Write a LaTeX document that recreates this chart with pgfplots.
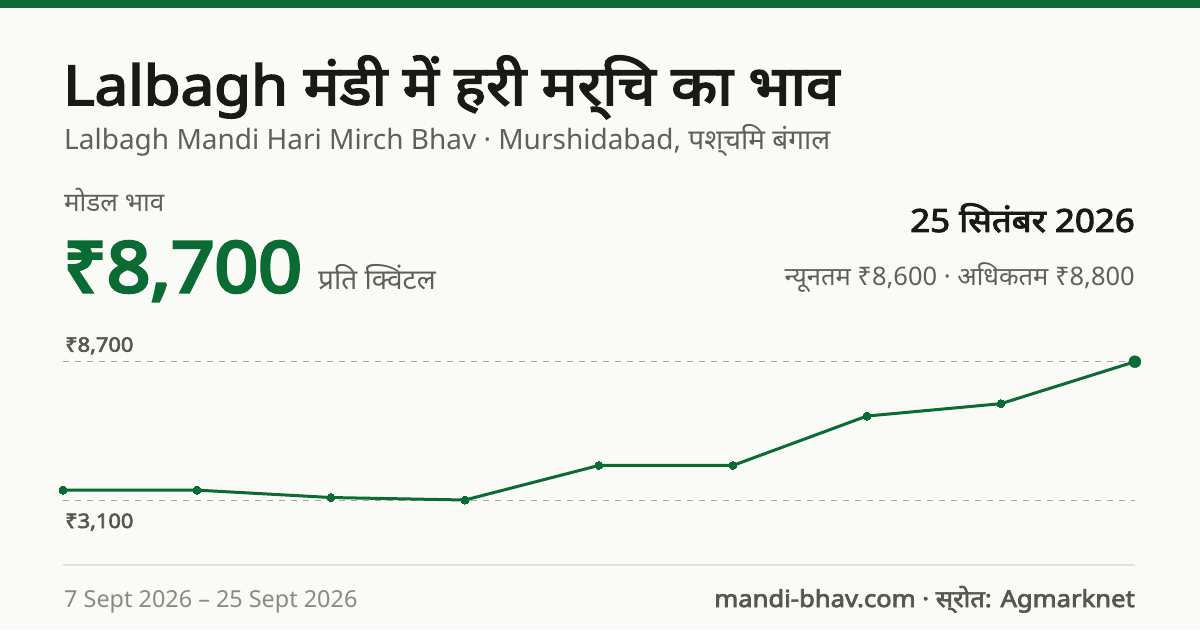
\documentclass[border=0pt]{standalone}
\usepackage{fontspec}
\setmainfont{Noto Sans}[BoldFont={Noto Sans},BoldFeatures={FakeBold=3}]
\newfontfamily\dv{Noto Sans}[Script=Devanagari,BoldFont={Noto Sans},BoldFeatures={FakeBold=3}]
\usepackage{pgfplots}
\pgfplotsset{compat=1.18}
\definecolor{bg}{HTML}{FAFAF6}
\definecolor{brand}{HTML}{0B6B35}
\definecolor{ink}{HTML}{1A1A14}
\definecolor{sub}{HTML}{5F6158}
\definecolor{lbl}{HTML}{55584C}
\definecolor{foot}{HTML}{8A8B80}
\definecolor{rule}{HTML}{E2E2DA}
\newcommand{\fs}[1]{\fontsize{#1}{#1}\selectfont}
% fake bold has regular widths; widen it like a real bold face
\newcommand{\wide}[1]{\scalebox{1.09}[1]{#1}}
\begin{document}
\begin{tikzpicture}[x=1pt,y=1pt]
  \fill[bg] (0,0) rectangle (1200,630);
  \fill[brand] (0,622) rectangle (1200,630);
  % header
  \node[anchor=base west,inner sep=0,text=ink] at (63,525)
    {\wide{\fs{55}\bfseries Lalbagh {\dv मंडी में हरी मर्^^^^200cचि का भाव}}};
  \node[anchor=base west,inner sep=0,text=sub] at (64,480)
    {\fs{28}Lalbagh Mandi Hari Mirch Bhav · Murshidabad, {\dv पश्^^^^200cचमि बंगाल}};
  \node[anchor=base west,inner sep=0,text=sub] at (64,418)
    {\fs{26}\dv मोडल भाव};
  \node[anchor=base west,inner sep=0,text=brand] at (63,338)
    {\wide{\fs{70}\addfontfeatures{FakeBold=4.5}₹8,700}};
  \node[anchor=base west,inner sep=0,text=sub] at (318,340)
    {\fs{28}\dv प्रति क्विंटल};
  \node[anchor=base east,inner sep=0,text=ink] at (1135,398)
    {\wide{\fs{32}\bfseries 25 {\dv सितंबर} 2026}};
  \node[anchor=base east,inner sep=0,text=sub] at (1135,344)
    {\fs{25.5}{\dv न्यूनतम} ₹8,600 · {\dv अधिकतम} ₹8,800};
  % chart
  \begin{axis}[
      at={(63pt,130pt)}, anchor=south west,
      width=1072pt, height=138.3pt, scale only axis,
      xmin=0, xmax=8, ymin=3100, ymax=8700,
      axis lines=none, ticks=none, clip=false,
    ]
    \addplot[rule!40!gray, dashed, dash pattern=on 6pt off 6pt, line width=1pt]
      coordinates {(0,8700) (8,8700)};
    \addplot[rule!40!gray, dashed, dash pattern=on 6pt off 6pt, line width=1pt]
      coordinates {(0,3100) (8,3100)};
    \addplot[brand, line width=3pt, mark=*, mark size=4pt,
      mark options={fill=brand, draw=brand, line width=0pt}]
      coordinates {(0,3500) (1,3500) (2,3200) (3,3100) (4,4500)
                   (5,4500) (6,6500) (7,7000) (8,8700)};
    \addplot[brand, only marks, mark=*, mark size=6pt,
      mark options={fill=brand, draw=brand}]
      coordinates {(8,8700)};
    \node[anchor=base west,inner sep=0,text=lbl] at (axis cs:0,8700)
      [yshift=10pt,xshift=2pt] {\wide{\fs{20}\bfseries ₹8,700}};
    \node[anchor=base west,inner sep=0,text=lbl] at (axis cs:0,3100)
      [yshift=-28pt,xshift=2pt] {\wide{\fs{20}\bfseries ₹3,100}};
  \end{axis}
  % footer
  \draw[rule, line width=2pt] (63,65) -- (1135,65);
  \node[anchor=base west,inner sep=0,text=foot] at (64,23)
    {\fs{23.4}7 Sept 2026 – 25 Sept 2026};
  \node[anchor=base east,inner sep=0,text=lbl] at (1135,23)
    {\wide{\fs{23.5}\bfseries mandi-bhav.com · {\dv स्^^^^200cरोत}: Agmarknet}};
\end{tikzpicture}
\end{document}
